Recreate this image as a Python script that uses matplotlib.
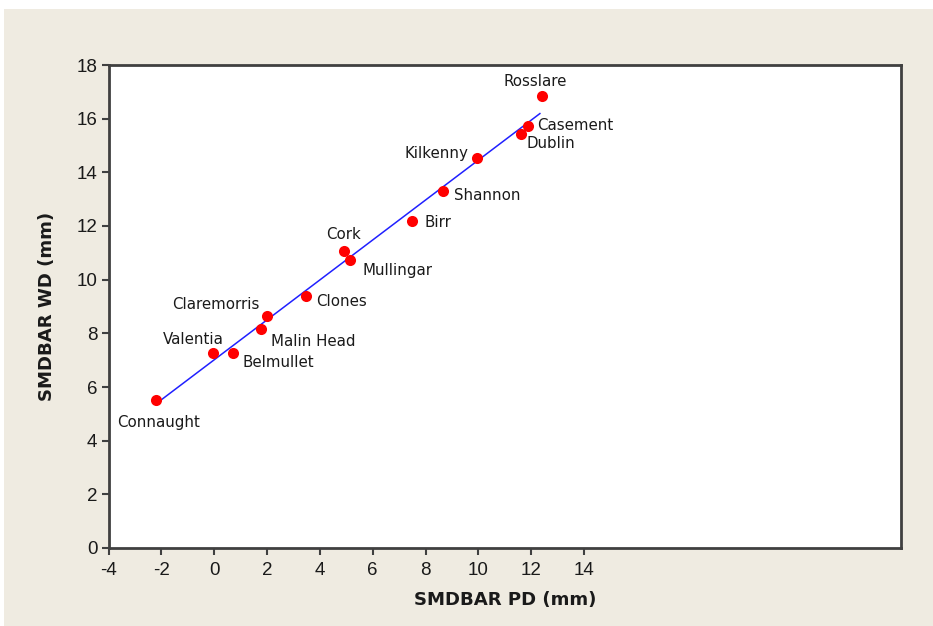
import numpy as np
import matplotlib
matplotlib.use("Agg")
import matplotlib.pyplot as plt
from matplotlib.patches import Rectangle

# Station data: standardised SMD values for the poorly-drained (PD) and well-drained (WD) soils
stations = ["Rosslare", "Casement", "Dublin", "Kilkenny", "Shannon", "Birr", "Cork",
            "Mullingar", "Clones", "Claremorris", "Malin Head", "Valentia", "Belmullet",
            "Connaught"]
smdbar_pd = [12.41, 11.88, 11.60, 9.96, 8.67, 7.50, 4.93, 5.14, 3.48, 2.01, 1.76, -0.03, 0.70, -2.20]
smdbar_wd = [16.84, 15.74, 15.43, 14.52, 13.29, 12.19, 11.07, 10.73, 9.40, 8.63, 8.18, 7.28, 7.28, 5.51]

x_ticks = [-4, -2, 0, 2, 4, 6, 8, 10, 12, 14]
y_ticks = [0, 2, 4, 6, 8, 10, 12, 14, 16, 18]

# label placement: (dx, dy in pixels, horizontal alignment)
label_pos = {
    "Rosslare": (-7, 15, "center"),
    "Casement": (9, 0, "left"),
    "Dublin": (6, -10, "left"),
    "Kilkenny": (-9, 5, "right"),
    "Shannon": (11, -4, "left"),
    "Birr": (12, -2, "left"),
    "Cork": (-1, 16, "center"),
    "Mullingar": (13, -10, "left"),
    "Clones": (10, -6, "left"),
    "Claremorris": (-8, 12, "right"),
    "Malin Head": (10, -13, "left"),
    "Valentia": (-20, 13, "center"),
    "Belmullet": (10, -10, "left"),
    "Connaught": (3, -22, "center"),
}

W, H = 933, 626
fig = plt.figure(figsize=(W / 100, H / 100), dpi=100, facecolor="white")
panel = Rectangle((4 / W, 0), 1 - 4 / W, 1 - 9 / H, transform=fig.transFigure,
                  facecolor="#efebe1", edgecolor="none")
panel.set_zorder(-10)
fig.add_artist(panel)

ax = fig.add_axes([108.5 / W, 1 - 548 / H, (901 - 108.5) / W, (548 - 65) / H])
ax.set_zorder(1)
ax.set_facecolor("white")

# least-squares fit through the stations
x = np.array(smdbar_pd)
y = np.array(smdbar_wd)
slope, intercept = np.polyfit(x, y, 1)
xf = np.array([x.min(), x.max() - 0.08])
ax.plot(xf, slope * xf + intercept, color="#2020ff", lw=1.1, zorder=2)

ax.plot(x, y, "o", color="#ff0000", ms=8.0, mec="none", zorder=3)

for name, px, py in zip(stations, smdbar_pd, smdbar_wd):
    dx, dy, ha = label_pos[name]
    ax.annotate(name, (px, py), xytext=(dx, dy), textcoords="offset pixels",
                ha=ha, va="center", fontsize=10.8, family="DejaVu Sans", color="#1a1a1a")

ax.set_xlim(-4, 26)
ax.set_ylim(0, 18)
ax.set_xticks(x_ticks)
ax.set_yticks(y_ticks)
ax.set_xticklabels([str(t) for t in x_ticks], family="Liberation Sans", fontsize=13.5)
ax.set_yticklabels([str(t) for t in y_ticks], family="Liberation Sans", fontsize=13.5)
ax.tick_params(axis="x", pad=5)
ax.tick_params(axis="y", pad=3)
ax.tick_params(direction="out", length=5, width=1.5, color="#404040",
               labelcolor="#1a1a1a")

for side in ax.spines.values():
    side.set_color("#404040")
    side.set_linewidth(2)

ax.set_xlabel("SMDBAR PD (mm)", fontsize=13.1, fontweight="bold", family="DejaVu Sans",
              color="#1a1a1a", labelpad=9)
ax.set_ylabel("SMDBAR WD (mm)", fontsize=13.1, fontweight="bold", family="DejaVu Sans",
              color="#1a1a1a", labelpad=15)

fig.savefig("out.png", dpi=100, facecolor=fig.get_facecolor())
